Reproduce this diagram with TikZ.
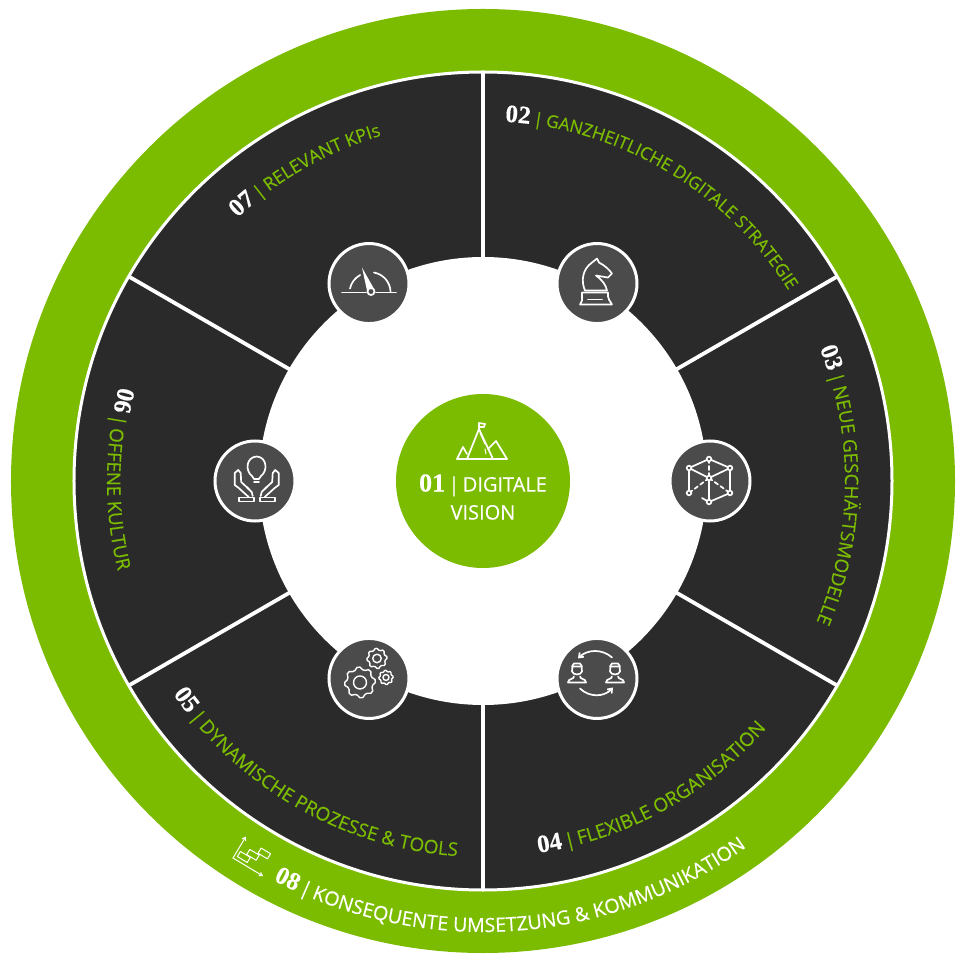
\documentclass[tikz,border=0pt]{standalone}
\usepackage{fontspec}
\usetikzlibrary{arrows.meta, calc, decorations.text}
\newfontfamily\lblfont[FakeBold=0.3]{Open Sans}
\newfontfamily\numfont[FakeBold=0.4]{Liberation Serif}
\definecolor{leaf}{HTML}{7CBC00}
\definecolor{panel}{HTML}{2A2A2A}
\definecolor{badge}{HTML}{4B4B4B}
\newcommand{\numtext}{\numfont\bfseries\fontsize{25}{26}\selectfont\color{white}}
\newcommand{\sectext}[1]{\lblfont\fontsize{#1}{22}\selectfont\color{leaf}}
\newcommand{\rimtext}{\lblfont\fontsize{19.6}{22}\selectfont\color{white}}
\tikzset{
	iconbox/.style={circle, draw=white, line width=3pt, fill=badge, minimum size=80pt, inner sep=0pt},
	hub/.style={circle, fill=leaf, minimum size=174pt, inner sep=0pt},
	spoke/.style={white, line width=3.8pt},
	ico/.style={white, line width=1.7pt, line join=round, line cap=round},
	arclabel/.style={decorate, decoration={text along path, text format delimiters={[}{]}, text={#1}}},
	gaugeicon/.pic={
		\draw [ico] (-27,-9) -- (-3,-9) (7,-9) -- (27,-9);
		\draw [ico] (-19,-5) arc [start angle=168, end angle=118, radius=20];
		\draw [ico] (5,11) arc [start angle=80, end angle=2, radius=20];
		\fill [white] (-7,16) -- (-2,-7) -- (6,-7) -- cycle;
		\draw [ico, fill=badge] (2,-8) circle (3.5);
	},
	knighticon/.pic={
		\draw [ico] (-12,-7) .. controls (-16,2) and (-15,14) .. (-5,21) -- (0,25) -- (2,21) .. controls (8,18) and (12,14) .. (15,10) -- (11,6) -- (-1,8) .. controls (6,3) and (9,-2) .. (10,-7) -- cycle;
		\draw [ico] (-15,-9) -- (11,-9) -- (11,-13) .. controls (11,-16) and (13,-17) .. (15,-21) -- (-17,-21) .. controls (-15,-17) and (-14,-16) .. (-15,-13) -- cycle;
		\draw [ico] (-9,-16) -- (5,-16);
	},
	cubeicon/.pic={
		\coordinate (t) at (-1,22);
		\coordinate (l) at (-21,13);
		\coordinate (r) at (20,13);
		\coordinate (m) at (-1,3);
		\coordinate (p) at (-21,-12);
		\coordinate (q) at (20,-12);
		\coordinate (b) at (-1,-21);
		\draw [ico] (l) -- (t) -- (r) -- (m) -- (l) -- (p) (r) -- (q) -- (b) -- (m) (b) -- (-8,-17);
		\draw [ico, dash pattern=on 4pt off 3pt] (t) -- (m) (m) -- (p) (m) -- (q);
		\foreach \pt in {t,l,r,m,p,q,b}
			\draw [ico, fill=badge] (\pt) circle (2.3);
	},
	personicon/.pic={
		\draw [ico] (-4.5,12) -- (-5,7) .. controls (-4,3) and (4,3) .. (5,7) -- (4.5,12) -- cycle;
		\draw [ico] (-5,12) -- (-3,15) -- (3,15) -- (5,12);
		\draw [ico] (-3,2) .. controls (-3,-1) and (-9,0) .. (-9,-4) -- (9,-4) .. controls (9,0) and (3,-1) .. (3,2);
	},
	swapicon/.pic={
		\pic at (-20,0) {personicon};
		\pic at (18,0) {personicon};
		\draw [ico, -{Straight Barb[length=4pt, width=6pt]}] (15,21) .. controls (5,30) and (-10,29) .. (-19,20);
		\draw [ico, -{Straight Barb[length=4pt, width=6pt]}] (-17,-10) .. controls (-8,-19) and (7,-19) .. (16,-9);
	},
	gearicon/.pic={
		\draw [ico, line width=1.4pt] plot [domain=0:360, samples=33] (\x:{#1 + 0.18*#1*(sin(8*\x+45)>0)}) -- cycle;
		\draw [ico, line width=1.4pt] (0,0) circle ({0.5*#1});
	},
	handsicon/.pic={
		\draw [ico] (-1,2) -- (-3,5) .. controls (-10,10) and (-9,24) .. (1.7,24.5) .. controls (12,24) and (13,10) .. (6,5) -- (4,2) -- cycle;
		\draw [ico] (-1,-1) -- (4,-1);
		\foreach \side in {1,-1} {
			\begin{scope}[xshift=1.7pt, xscale=\side]
				\draw [ico] (-8,-16) -- (-18,-7) -- (-22,-4) -- (-22,8) -- (-18.5,11) -- (-16,8) -- (-15.5,-1) -- (-8,-8);
				\draw [ico] (-4,-15) -- (-5,-11) -- (-10,-6);
				\draw [ico] (-18,-16.5) rectangle (-3,-20.5);
			\end{scope}
		}
	},
	peakicon/.pic={
		\draw [ico] (-26,22) -- (24,22);
		\draw [ico] (-16,22) -- (-4,52) -- (10,22);
		\draw [ico] (-26,22) -- (-20,34) -- (-16,27);
		\draw [ico] (5,32) -- (13,40) -- (24,22);
		\draw [ico] (-4,52) -- (-4,58) -- (2,57) -- (1,54) -- (-4,54);
		\draw [ico, line width=1pt] (-3,48) -- (2,37) (2,32) -- (3,27);
	},
	stairicon/.pic={
		\begin{scope}[rotate=-31]
			\draw [ico, line width=1pt, -{Straight Barb[length=3pt, width=4pt]}] (0,0) -- (0,25);
			\draw [ico, line width=1pt, -{Straight Barb[length=3pt, width=4pt]}] (0,0) -- (35,0);
			\draw [ico, line width=1pt] (3,3.5) rectangle (14.5,9.5) (10,10) rectangle (21,16) (19,17) rectangle (30,23);
		\end{scope}
	}
}

\begin{document}
\begin{tikzpicture}[x=1pt, y=1pt]
	\useasboundingbox (-483,-479) rectangle (477,481);
	\fill [leaf] (0,0) circle (472);
	\draw [panel, fill=panel] (0,0) circle (408);
	\draw [white, line width=3pt] (0,0) circle (409);
	\fill [white] (0,0) circle (224);
	\foreach \ang in {30,90,150,210,270,330}
		\draw [spoke] (\ang:223) -- (\ang:408);

	\path [arclabel={[\numtext]02[\sectext{17.4}]{\kern3pt}|{\kern3pt}GANZHEITLICHE DIGITALE STRATEGIE}] (86.5:360) arc [start angle=86.5, end angle=10, radius=360];
	\path [arclabel={[\numtext]03[\sectext{18.6}]{\kern3pt}|{\kern3pt}NEUE GESCHÄFTSMODELLE}] (21.5:362) arc [start angle=21.5, end angle=-45, radius=362];
	\path [arclabel={[\numtext]04[\sectext{19}]{\kern3pt}|{\kern3pt}FLEXIBLE ORGANISATION}] (-81.5:376) arc [start angle=-81.5, end angle=-15, radius=376];
	\path [arclabel={[\numtext]05[\sectext{18.8}]{\kern3pt}|{\kern3pt}DYNAMISCHE PROZESSE {\&} TOOLS}] (214.5:376) arc [start angle=214.5, end angle=285, radius=376];
	\path [arclabel={[\numtext]06[\sectext{18.8}]{\kern3pt}|{\kern3pt}OFFENE KULTUR}] (165.5:376) arc [start angle=165.5, end angle=215, radius=376];
	\path [arclabel={[\numtext]07[\sectext{18}]{\kern3pt}|{\kern3pt}RELEVANT KPIs}] (133:360) arc [start angle=133, end angle=90, radius=360];
	\path [arclabel={[\numtext]08[\rimtext]{\kern3pt}|{\kern3pt}KONSEQUENTE UMSETZUNG {\&} KOMMUNIKATION}] (242.3:451) arc [start angle=242.3, end angle=320, radius=451];

	\node [iconbox] (kpis) at (120:228) {};
	\node [iconbox] (strategy) at (60:228) {};
	\node [iconbox] (models) at (0:227) {};
	\node [iconbox] (organisation) at (-60:228) {};
	\node [iconbox] (processes) at (240:228) {};
	\node [iconbox] (culture) at (180:228) {};
	\node [hub] (vision) at (0,0) {};
	\node [text=white, align=center, font=\lblfont\fontsize{20}{28}\selectfont] (visiontext) at (0,-16) {{\numfont\bfseries\fontsize{26}{28}\selectfont 01}\,|\,DIGITALE\\VISION};

	\pic at (kpis) {gaugeicon};
	\pic at (strategy) {knighticon};
	\pic at (models) {cubeicon};
	\pic at (organisation) {swapicon};
	\pic at (culture) {handsicon};
	\pic at (vision) {peakicon};
	\pic at (-250,-377) {stairicon};
	\pic at ($(processes)+(-9,-4)$) {gearicon=13};
	\pic at ($(processes)+(8,20)$) {gearicon=8.5};
	\pic at ($(processes)+(17,1)$) {gearicon=6};
\end{tikzpicture}
\end{document}
